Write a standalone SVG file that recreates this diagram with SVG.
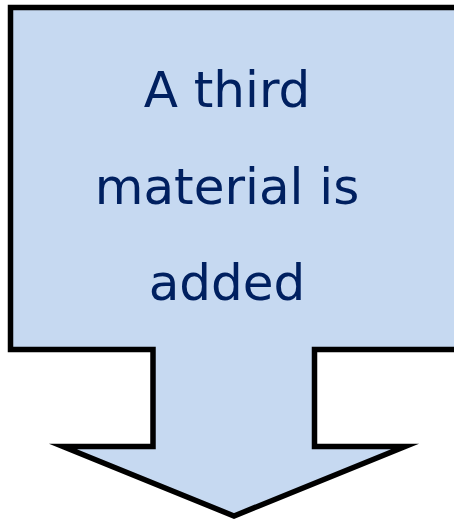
<svg xmlns="http://www.w3.org/2000/svg" width="454" height="522" viewBox="0 0 454 522">
<style>
.shape{fill:#c6d9f1;stroke:#000;stroke-width:5.5;stroke-linejoin:miter;stroke-miterlimit:10}
.lbl{font-family:"Comic Sans MS","DejaVu Sans",sans-serif;font-size:50px;fill:#002060;text-anchor:middle}
</style>
<g id="callout">
<path class="shape" d="M10.5,7.5 L457,7.5 L457,349.5 L314.5,349.5 L314.5,446.5 L405,446.5 L234,516 L63,446.5 L153,446.5 L153,349.5 L10.5,349.5 Z"/>
<text class="lbl" x="227" y="107">A third</text>
<text class="lbl" x="227" y="204">material is</text>
<text class="lbl" x="227" y="300">added</text>
</g>
<g id="connectors"></g>
</svg>
